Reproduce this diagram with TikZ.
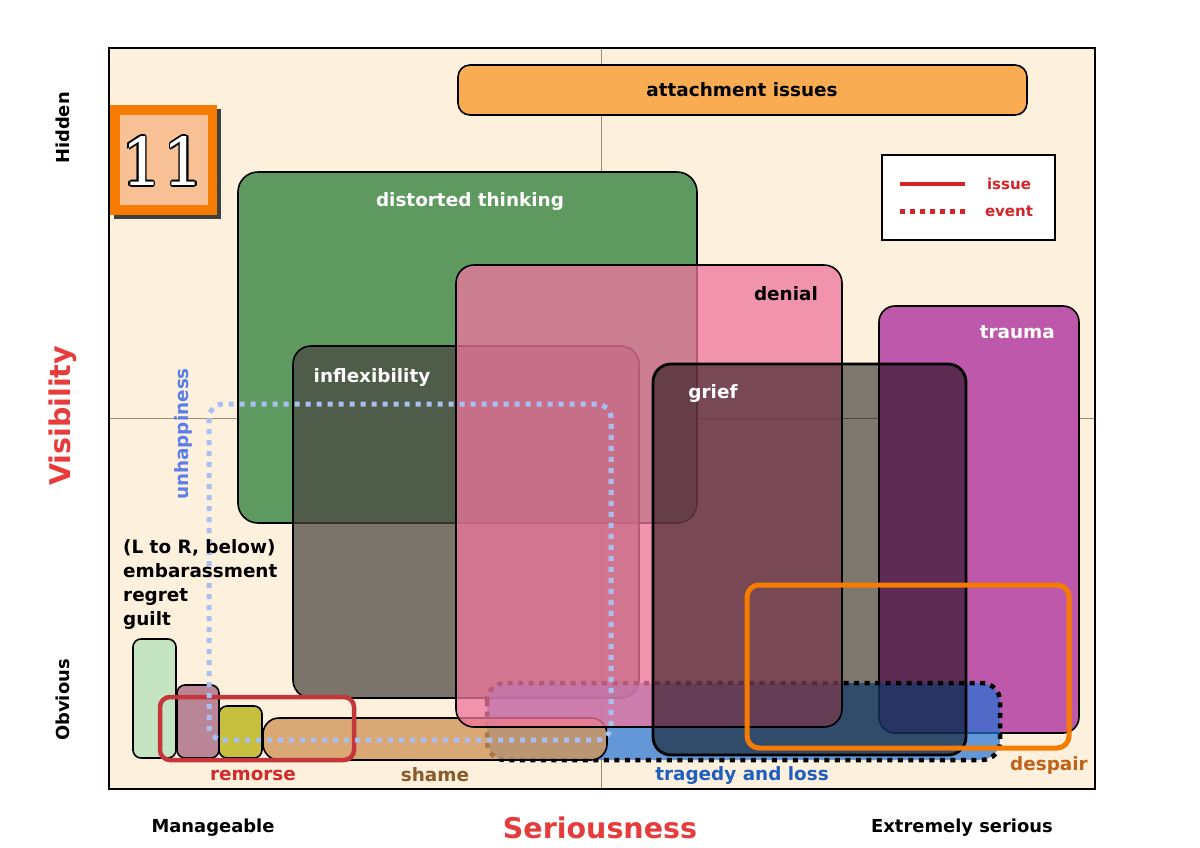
\documentclass[tikz,border=0pt]{standalone}
\usepackage{fontspec}
\setmainfont{DejaVu Sans}
\newfontfamily\numfont{DejaVu Serif}
\begin{document}
\begin{tikzpicture}[x=1pt,y=-1pt,
  lbl/.style={font=\bfseries\fontsize{18.4}{22}\selectfont, inner sep=0pt},
  box/.style={draw=black, line width=1.6pt, rounded corners=14pt},
  evt/.style={line width=4.5pt, dash pattern=on 5pt off 5.5pt, rounded corners=18pt},
  axlbl/.style={font=\bfseries\fontsize{17.9}{22}\selectfont, inner sep=0pt},
  biglbl/.style={font=\bfseries\fontsize{28.5}{34}\selectfont, inner sep=0pt, text=axred},
]
\definecolor{cream}{RGB}{253,240,220}
\definecolor{attach}{RGB}{249,172,82}
\definecolor{greenb}{RGB}{94,154,96}
\definecolor{inflex}{RGB}{74,70,65}
\definecolor{pinkb}{RGB}{238,118,158}
\definecolor{traumac}{RGB}{190,88,170}
\definecolor{tragedyc}{RGB}{36,114,214}
\definecolor{shamec}{RGB}{210,150,90}
\definecolor{embc}{RGB}{196,228,194}
\definecolor{regc}{RGB}{186,133,150}
\definecolor{guiltc}{RGB}{198,192,62}
\definecolor{unhapc}{RGB}{169,191,242}
\definecolor{unhaptext}{RGB}{91,127,232}
\definecolor{despc}{RGB}{245,124,0}
\definecolor{desptext}{RGB}{192,99,26}
\definecolor{remc}{RGB}{196,54,58}
\definecolor{remtext}{RGB}{209,43,43}
\definecolor{shametext}{RGB}{139,90,43}
\definecolor{tragtext}{RGB}{31,95,191}
\definecolor{legred}{RGB}{212,36,40}
\definecolor{axred}{RGB}{230,60,60}
\definecolor{orangeo}{RGB}{245,124,0}
\definecolor{orangei}{RGB}{248,193,149}
\definecolor{midline}{RGB}{160,140,110}

\useasboundingbox (0,0) rectangle (1200,847);
\fill[white] (0,0) rectangle (1200,847);

% plot area
\fill[cream] (109,48) rectangle (1095,789);
\draw[midline, line width=0.8pt] (601,48) -- (601,789);
\draw[midline, line width=0.8pt] (109,418) -- (1095,418);
\draw[black, line width=2pt] (109,48) rectangle (1095,789);

% attachment issues
\draw[box, fill=attach, rounded corners=12pt] (458,65) rectangle (1027,115);
\node[lbl] (tattach) at (742,90) {attachment issues};

% 11 badge
\fill[black!75] (114,109) rectangle (221,219);
\fill[orangeo] (110,105) rectangle (217,215);
\fill[orangei] (120,115) rectangle (208,205);
\foreach \dx/\dy [count=\i] in {-1.6/0,1.6/0,0/-1.6,0/1.6,-1.1/-1.1,1.1/1.1,-1.1/1.1,1.1/-1.1}{
  \node[font=\numfont\fontsize{66}{70}\selectfont, text=black, inner sep=0pt] (badgeo\i) at (163+\dx,161+\dy) {11};
}
\node[font=\numfont\fontsize{66}{70}\selectfont, text=white, inner sep=0pt] (badge) at (163,161) {11};

% distorted thinking
\draw[box, fill=greenb, rounded corners=20pt] (238,172) rectangle (697,523);
\node[lbl, text=white] (tdist) at (470,201) {distorted thinking};

% inflexibility
\draw[box, fill=inflex, fill opacity=0.73, rounded corners=18pt] (293,346) rectangle (639,698);
\node[lbl, text=white] (tinflex) at (372,377) {inflexibility};

% trauma
\draw[box, fill=traumac, rounded corners=16pt] (879,306) rectangle (1079,733);
\node[lbl, text=white, anchor=east] (ttrauma) at (1055,332) {trauma};

% tragedy and loss (event)
\fill[tragedyc, fill opacity=0.7, rounded corners=20pt] (487,683) rectangle (1000,760);
\draw[evt, black] (487,683) rectangle (1000,760);

% shame
\draw[box, fill=shamec, fill opacity=0.8, rounded corners=16pt] (263,718) rectangle (607,760);

% denial
\draw[box, fill=pinkb, fill opacity=0.76, rounded corners=18pt] (456,265) rectangle (842,727);
\node[lbl, anchor=east] (tdenial) at (818,294) {denial};

% grief
\draw[box, line width=2.8pt, fill=black, fill opacity=0.5, rounded corners=18pt] (653,364) rectangle (966,755);
\node[lbl, text=white] (tgrief) at (713,393) {grief};

% small boxes
\draw[box, fill=embc, rounded corners=8pt] (133,639) rectangle (176,758);
\draw[box, fill=regc, rounded corners=8pt] (177,685) rectangle (219,758);
\draw[box, fill=guiltc, rounded corners=8pt] (219,706) rectangle (262,758);

% remorse (issue)
\draw[remc, line width=4.5pt, rounded corners=10pt] (160,697) rectangle (354,760);

% unhappiness (event)
\draw[unhapc, line width=5pt, dash pattern=on 5pt off 6pt, rounded corners=14pt] (209,404) rectangle (611,740);

% despair (issue)
\draw[despc, line width=5pt, rounded corners=12pt] (747,585) rectangle (1069,748);

% labels
\node[lbl, text=remtext] (tremorse) at (253,775) {remorse};
\node[lbl, text=shametext] (tshame) at (435,775) {shame};
\node[lbl, text=tragtext] (ttrag) at (742,775) {tragedy and loss};
\node[lbl, text=desptext] (tdespair) at (1049,765) {despair};
\node[lbl, text=unhaptext, rotate=90] (tunhap) at (183,434) {unhappiness};
\node[lbl, align=left, anchor=north west, font=\bfseries\fontsize{18.4}{24}\selectfont] (tlr) at (123,539) {(L to R, below)\\embarassment\\regret\\guilt};

% legend
\draw[black, line width=1.2pt, fill=white] (882,155) rectangle (1055,240);
\coordinate (l1a) at (900,184);
\coordinate (l1b) at (965,184);
\coordinate (l2a) at (900,211);
\coordinate (l2b) at (965,211);
\draw[legred, line width=3.5pt] (l1a) -- (l1b);
\draw[legred, line width=5pt, dash pattern=on 5pt off 5pt] (l2a) -- (l2b);
\node[font=\bfseries\fontsize{15}{18}\selectfont, text=legred, inner sep=0pt] (tissue) at (1009,184) {issue};
\node[font=\bfseries\fontsize{15}{18}\selectfont, text=legred, inner sep=0pt] (tevent) at (1009,211) {event};

% axes labels
\node[axlbl, rotate=90] (thidden) at (63,128) {Hidden};
\node[axlbl, rotate=90] (tobvious) at (63,700) {Obvious};
\node[biglbl, rotate=90] (tvis) at (63,416) {Visibility};
\node[axlbl] (tman) at (213,828) {Manageable};
\node[biglbl] (tser) at (600,828) {Seriousness};
\node[axlbl] (text) at (962,828) {Extremely serious};
\end{tikzpicture}
\end{document}
